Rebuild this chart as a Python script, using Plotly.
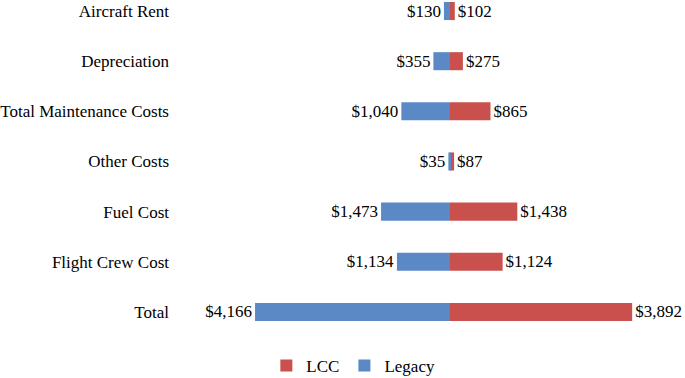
import plotly.graph_objects as go

categories = ["Aircraft Rent", "Depreciation", "Total Maintenance Costs", "Other Costs",
              "Fuel Cost", "Flight Crew Cost", "Total"]
legacy = [130, 355, 1040, 35, 1473, 1134, 4166]
lcc = [102, 275, 865, 87, 1438, 1124, 3892]

BLUE = "#5B89C6"
RED = "#C9504C"
FONT = "Liberation Serif"
FS = 17

def money(v):
    return f"${v:,}"

fig = go.Figure()
fig.add_trace(go.Bar(
    name="LCC", y=categories, x=lcc, orientation="h",
    marker=dict(color=RED, line=dict(width=0)),
    text=[money(v) for v in lcc], textposition="outside",
    textfont=dict(family=FONT, size=FS, color="#000"),
    constraintext="none", cliponaxis=False, width=0.36,
))
fig.add_trace(go.Bar(
    name="Legacy", y=categories, x=[-v for v in legacy], orientation="h",
    marker=dict(color=BLUE, line=dict(width=0)),
    text=[money(v) for v in legacy], textposition="outside",
    textfont=dict(family=FONT, size=FS, color="#000"),
    constraintext="none", cliponaxis=False, width=0.36,
))

fig.update_layout(
    width=685, height=378,
    margin=dict(l=170, r=0, t=0, b=43, autoexpand=False),
    paper_bgcolor="white", plot_bgcolor="white",
    barmode="overlay",
    hovermode=False,
    font=dict(family=FONT, size=FS, color="#000"),
    showlegend=True,
    legend=dict(orientation="h", x=0.356, xanchor="center", y=-0.039, yanchor="top",
                font=dict(family=FONT, size=FS, color="#000"),
                itemwidth=30, traceorder="normal"),
    xaxis=dict(range=[-5983, 5021], showgrid=False, zeroline=False, automargin=False,
               showticklabels=False, showline=False, ticks=""),
    yaxis=dict(type="category", categoryarray=categories[::-1], categoryorder="array",
               range=[-0.46, 6.22], showgrid=False, zeroline=False, showline=False,
               automargin=False,
               ticks="", tickfont=dict(family=FONT, size=FS, color="#000")),
)

fig.write_html("out.html", config={"displayModeBar": False},
               post_script="document.body.style.margin='0';")
